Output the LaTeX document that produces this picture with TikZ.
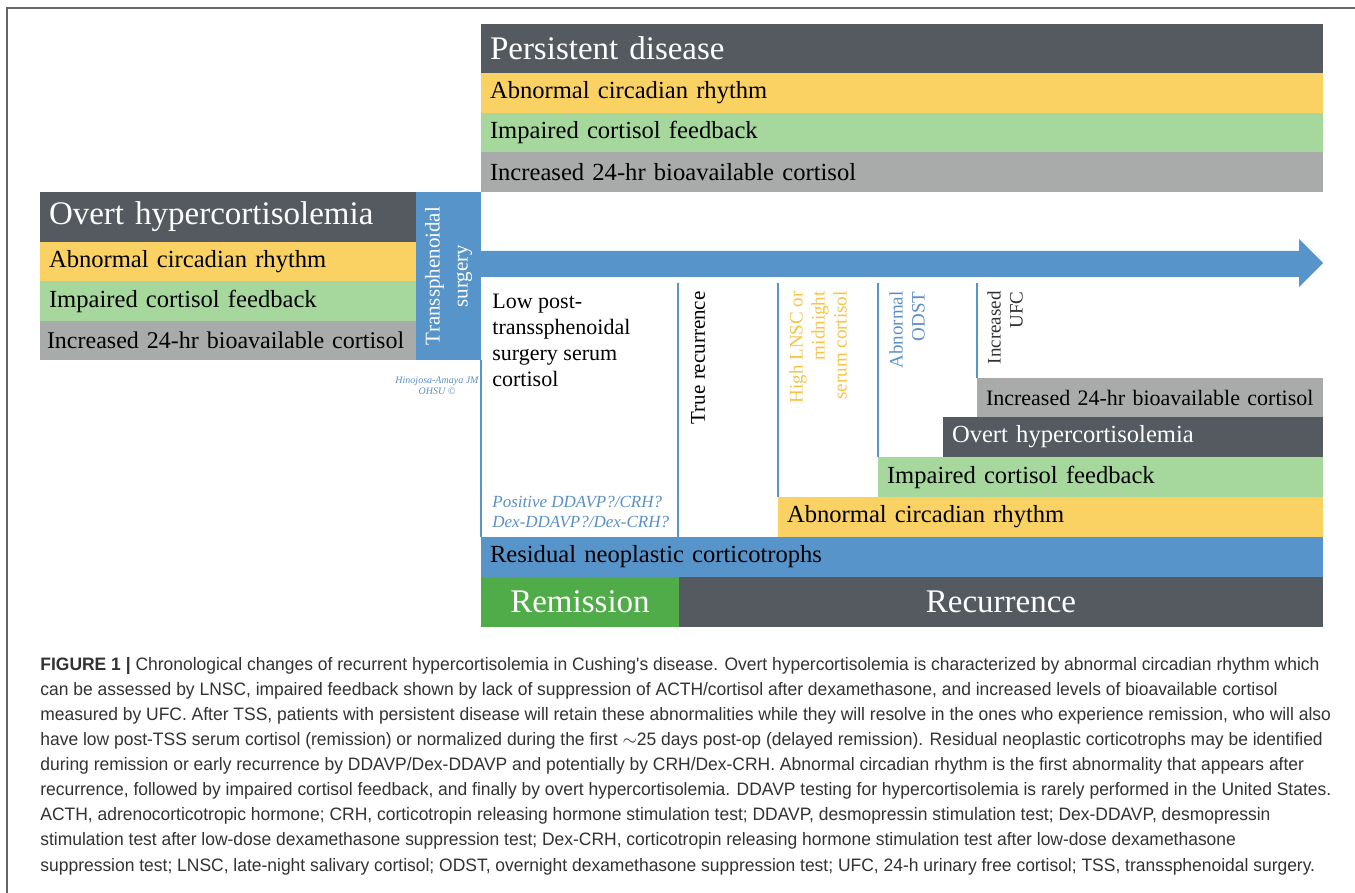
\documentclass[tikz,border=0pt]{standalone}
\usepackage{fontspec}
\setmainfont{Liberation Serif}
\newfontfamily\capfont[FakeStretch=0.97]{Liberation Sans}
\usepackage{xcolor}
\usepackage{tikz}
\usetikzlibrary{positioning}
\definecolor{darkbar}{RGB}{84,90,96}
\definecolor{yellowbar}{RGB}{250,210,100}
\definecolor{greenbar}{RGB}{166,216,158}
\definecolor{graybar}{RGB}{169,171,171}
\definecolor{bluebar}{RGB}{87,148,201}
\definecolor{remgreen}{RGB}{80,172,72}
\definecolor{lnsccol}{RGB}{246,196,70}
\definecolor{odstcol}{RGB}{91,143,201}
\definecolor{captxt}{RGB}{50,50,50}
\definecolor{framecol}{RGB}{100,100,100}
\tikzstyle{bar} = [rectangle, anchor=north west, inner xsep=4.5pt, inner ysep=0pt, outer sep=0pt, align=left]
\tikzstyle{bigfont} = [font=\fontsize{16.5}{19}\selectfont]
\tikzstyle{midfont} = [font=\fontsize{12.3}{14}\selectfont]
\tikzstyle{vtext} = [rotate=90, inner sep=0pt, align=right, anchor=north east, font=\fontsize{9.5}{11}\selectfont]
\tikzstyle{laneline} = [draw=bluebar, line width=0.7pt]

\begin{document}
\begin{tikzpicture}[x=0.5pt, y=-0.5pt]
\useasboundingbox[fill=white] (0,0) rectangle (1355,893);
\draw[framecol, line width=0.8pt] (1355,8) -- (7,8) -- (7,893);

% before surgery
\node (ovhyp) [bar, bigfont, fill=darkbar, text=white, text width=179pt, minimum height=25pt] at (40,192) {Overt hypercortisolemia};
\node (ovcirc) [bar, midfont, fill=yellowbar, text width=179pt, minimum height=19.5pt, below=0pt of ovhyp.south west, anchor=north west] {Abnormal circadian rhythm};
\node (ovfeed) [bar, midfont, fill=greenbar, text width=179pt, minimum height=20pt, below=0pt of ovcirc.south west, anchor=north west] {Impaired cortisol feedback};
\node (ovbio) [bar, fill=graybar, inner xsep=3.5pt, text width=181pt, minimum height=19.5pt, font=\fontsize{12}{14}\selectfont, below=0pt of ovfeed.south west, anchor=north west] {\mbox{Increased 24-hr bioavailable cortisol}};

\node (tss) [fill=bluebar, text=white, rotate=90, inner sep=0pt, minimum width=84pt, minimum height=32.5pt, align=center, font=\fontsize{10.5}{14}\selectfont] at (448.5,276) {Transsphenoidal\\surgery};
\node (sig) [font=\fontsize{5}{5.5}\selectfont\itshape, text=odstcol, align=center, inner sep=0pt] at (437,386) {Hinojosa-Amaya JM\\OHSU \textcopyright};

% persistent disease
\node (pers) [bar, bigfont, fill=darkbar, text=white, text width=412pt, minimum height=24.5pt] at (481,24) {Persistent disease};
\node (perscirc) [bar, midfont, fill=yellowbar, text width=412pt, minimum height=20pt, below=0pt of pers.south west, anchor=north west] {Abnormal circadian rhythm};
\node (persfeed) [bar, midfont, fill=greenbar, text width=412pt, minimum height=19.5pt, below=0pt of perscirc.south west, anchor=north west] {Impaired cortisol feedback};
\node (persbio) [bar, midfont, fill=graybar, text width=412pt, minimum height=20pt, below=0pt of persfeed.south west, anchor=north west] {Increased 24-hr bioavailable cortisol};

% time arrow
\fill[bluebar] (481,251) -- (1299,251) -- (1299,239) -- (1323,263) -- (1299,287) -- (1299,277) -- (481,277) -- cycle;

% remission / recurrence
\node (recbio) [bar, fill=graybar, text width=164pt, minimum height=19.5pt, font=\fontsize{11}{13}\selectfont] at (977,378) {Increased 24-hr bioavailable cortisol};
\node (recovert) [bar, midfont, fill=darkbar, text=white, text width=181pt, minimum height=20pt] at (943,417) {Overt hypercortisolemia};
\node (recfeed) [bar, midfont, fill=greenbar, text width=213.5pt, minimum height=20pt] at (878,457) {Impaired cortisol feedback};
\node (reccirc) [bar, midfont, fill=yellowbar, text width=263.5pt, minimum height=20pt] at (778,497) {Abnormal circadian rhythm};
\node (resid) [bar, midfont, fill=bluebar, text width=412pt, minimum height=20pt] at (481,537) {Residual neoplastic corticotrophs};
\node (remis) [bar, bigfont, fill=remgreen, text=white, text width=90pt, minimum height=25pt, align=center, below=0pt of resid.south west, anchor=north west] {Remission};
\node (recur) [bar, bigfont, fill=darkbar, text=white, text width=313pt, minimum height=25pt, align=center, right=0pt of remis.north east, anchor=north west] {Recurrence};

\draw[laneline] (481,360) -- (resid.north west);
\draw[laneline] (678,283) -- (678,537);
\draw[laneline] (778,283) -- (reccirc.north west);
\draw[laneline] (878,283) -- (recfeed.north west);
\draw[laneline] (977,283) -- (recbio.north west);

\node (lowcort) [anchor=north west, inner sep=0pt, align=left, font=\fontsize{11}{13}\selectfont] at (492,294) {Low post-\\transsphenoidal\\surgery serum\\cortisol};
\node (posdd) [anchor=north west, inner sep=0pt, align=left, text=odstcol, font=\fontsize{8.5}{10}\selectfont\itshape] at (492,496) {Positive DDAVP?/CRH?\\Dex-DDAVP?/Dex-CRH?};
\node (truerec) [vtext, anchor=east, font=\fontsize{10.5}{12}\selectfont] at (698,291) {True recurrence};
\node (lnsc) [vtext, text=lnsccol] at (789,291) {High LNSC or\\midnight\\serum cortisol};
\node (odst) [vtext, text=odstcol] at (889,291) {Abnormal\\ODST};
\node (ufc) [vtext, text=captxt] at (987,291) {Increased\\UFC};

% caption
\node (caption) [anchor=base west, inner sep=0pt, align=left, text=captxt, font=\capfont\fontsize{9}{12.55}\selectfont] at (40,871) {\textbf{FIGURE 1 |} Chronological changes of recurrent hypercortisolemia in Cushing's disease. Overt hypercortisolemia is characterized by abnormal circadian rhythm which\\
can be assessed by LNSC, impaired feedback shown by lack of suppression of ACTH/cortisol after dexamethasone, and increased levels of bioavailable cortisol\\
measured by UFC. After TSS, patients with persistent disease will retain these abnormalities while they will resolve in the ones who experience remission, who will also\\
have low post-TSS serum cortisol (remission) or normalized during the first $\sim$25 days post-op (delayed remission). Residual neoplastic corticotrophs may be identified\\
during remission or early recurrence by DDAVP/Dex-DDAVP and potentially by CRH/Dex-CRH. Abnormal circadian rhythm is the first abnormality that appears after\\
recurrence, followed by impaired cortisol feedback, and finally by overt hypercortisolemia. DDAVP testing for hypercortisolemia is rarely performed in the United States.\\
ACTH, adrenocorticotropic hormone; CRH, corticotropin releasing hormone stimulation test; DDAVP, desmopressin stimulation test; Dex-DDAVP, desmopressin\\
stimulation test after low-dose dexamethasone suppression test; Dex-CRH, corticotropin releasing hormone stimulation test after low-dose dexamethasone\\
suppression test; LNSC, late-night salivary cortisol; ODST, overnight dexamethasone suppression test; UFC, 24-h urinary free cortisol; TSS, transsphenoidal surgery.};
\end{tikzpicture}
\end{document}
